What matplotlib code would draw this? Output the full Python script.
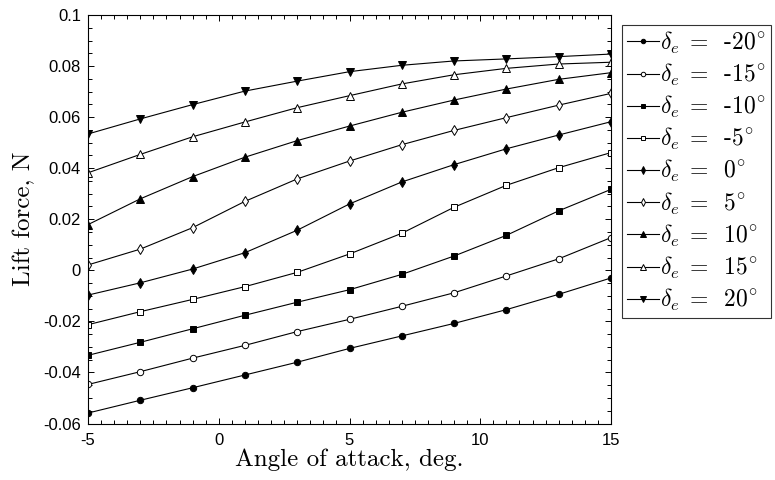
import matplotlib
matplotlib.use("Agg")
import matplotlib.pyplot as plt
from matplotlib.ticker import MultipleLocator

plt.rcParams["mathtext.fontset"] = "cm"
plt.rcParams["axes.formatter.use_mathtext"] = True

# Angle of attack (deg) at which lift was evaluated
alpha = [-5, -3, -1, 1, 3, 5, 7, 9, 11, 13, 15]

# Elevator deflections (deg)
deflections = [-20, -15, -10, -5, 0, 5, 10, 15, 20]

# Lift force (N) for each elevator deflection
lift_m20 = [-0.0559, -0.0509, -0.0460, -0.0410, -0.0360, -0.0306, -0.0257, -0.0208, -0.0154, -0.0094, -0.0030]
lift_m15 = [-0.0447, -0.0397, -0.0344, -0.0294, -0.0240, -0.0192, -0.0141, -0.0088, -0.0022, 0.0045, 0.0128]
lift_m10 = [-0.0333, -0.0282, -0.0229, -0.0176, -0.0125, -0.0076, -0.0016, 0.0056, 0.0137, 0.0233, 0.0317]
lift_m5 = [-0.0213, -0.0162, -0.0114, -0.0064, -0.0008, 0.0064, 0.0145, 0.0247, 0.0333, 0.0402, 0.0461]
lift_0 = [-0.0097, -0.0049, 0.0005, 0.0069, 0.0157, 0.0260, 0.0346, 0.0414, 0.0476, 0.0530, 0.0582]
lift_p5 = [0.0021, 0.0083, 0.0167, 0.0270, 0.0358, 0.0428, 0.0492, 0.0548, 0.0598, 0.0647, 0.0693]
lift_p10 = [0.0179, 0.0280, 0.0367, 0.0443, 0.0508, 0.0565, 0.0619, 0.0667, 0.0710, 0.0748, 0.0774]
lift_p15 = [0.0382, 0.0454, 0.0523, 0.0581, 0.0637, 0.0684, 0.0730, 0.0766, 0.0791, 0.0808, 0.0815]
lift_p20 = [0.0534, 0.0593, 0.0649, 0.0702, 0.0741, 0.0778, 0.0803, 0.0820, 0.0828, 0.0837, 0.0847]

series = [lift_m20, lift_m15, lift_m10, lift_m5, lift_0, lift_p5, lift_p10, lift_p15, lift_p20]

# (marker, filled)
styles = [("o", True), ("o", False), ("s", True), ("s", False), ("d", True),
          ("d", False), ("^", True), ("^", False), ("v", True)]
marker_size = {"o": 4.6, "s": 4.6, "d": 5.6, "^": 5.6, "v": 5.6}

fig = plt.figure(figsize=(7.75, 4.8), dpi=100)
ax = fig.add_axes([88 / 775, 1 - 423.5 / 480, (611 - 88) / 775, (423.5 - 15) / 480])

handles = []
for d, y, (m, filled) in zip(deflections, series, styles):
    h, = ax.plot(alpha, y, color="black", lw=0.8, marker=m,
                 markersize=marker_size[m],
                 markerfacecolor="black" if filled else "white",
                 markeredgecolor="black", markeredgewidth=0.7,
                 label=r"$\delta_e\;=\;\;$" + f"{d}" + r"$^{\circ}$")
    handles.append(h)

ax.set_xlim(-5, 15)
ax.set_ylim(-0.06, 0.1)
ax.xaxis.set_minor_locator(MultipleLocator(0.5))
ax.yaxis.set_minor_locator(MultipleLocator(0.005))
ax.set_yticks([-0.06, -0.04, -0.02, 0, 0.02, 0.04, 0.06, 0.08, 0.1])
ax.set_yticklabels(["-0.06", "-0.04", "-0.02", "0", "0.02", "0.04", "0.06", "0.08", "0.1"])
ax.set_xticks([-5, 0, 5, 10, 15])
ax.set_xticklabels(["-5", "0", "5", "10", "15"])

ax.tick_params(which="both", direction="in", top=True, right=True, width=0.7)
ax.tick_params(which="major", length=4, labelsize=12)
ax.tick_params(axis="x", which="major", pad=7)
ax.tick_params(axis="y", which="major", pad=5)
ax.tick_params(which="minor", length=3)
for lbl in ax.get_xticklabels() + ax.get_yticklabels():
    lbl.set_family("Liberation Sans")
for s in ax.spines.values():
    s.set_linewidth(0.8)

ax.set_xlabel("Angle of attack, deg.", family="cmr10", fontsize=18, labelpad=0)
ax.set_ylabel("Lift force, N", family="cmr10", fontsize=18, labelpad=6)

leg = fig.legend(handles=handles, loc="upper left",
                 bbox_to_anchor=(622 / 775, 1 - 25 / 480), borderaxespad=0,
                 prop={"family": "cmr10", "size": 17}, frameon=True, fancybox=False,
                 edgecolor="black", handlelength=1.35, handletextpad=0.08,
                 labelspacing=0.26, borderpad=0.2, markerscale=0.7)
leg.get_frame().set_linewidth(0.8)

fig.savefig("out.png", dpi=100)
